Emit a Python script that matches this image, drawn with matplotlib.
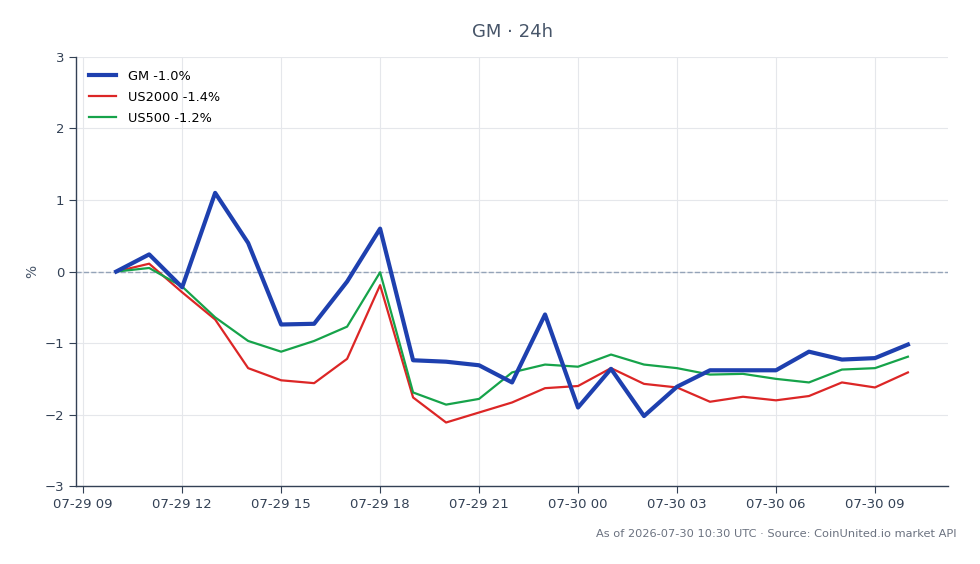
import pandas as pd
import numpy as np
import matplotlib.pyplot as plt
import matplotlib.dates as mdates

# hourly points, 07-29 10:00 -> 07-30 10:00 UTC
times = pd.date_range('2026-07-29 10:00', '2026-07-30 10:00', freq='h')

gm = [0.00, 0.24, -0.22, 1.10, 0.40, -0.74, -0.73, -0.14, 0.60, -1.24, -1.26, -1.31, -1.55,
      -0.60, -1.90, -1.36, -2.02, -1.61, -1.38, -1.38, -1.38, -1.12, -1.23, -1.21, -1.02]
us2000 = [0.00, 0.11, -0.29, -0.67, -1.35, -1.52, -1.56, -1.22, -0.19, -1.76, -2.11, -1.97, -1.83,
          -1.63, -1.60, -1.35, -1.57, -1.62, -1.82, -1.75, -1.80, -1.74, -1.55, -1.62, -1.41]
us500 = [0.00, 0.05, -0.21, -0.64, -0.97, -1.12, -0.97, -0.77, -0.01, -1.69, -1.86, -1.78, -1.41,
         -1.30, -1.33, -1.16, -1.30, -1.35, -1.44, -1.43, -1.50, -1.55, -1.37, -1.35, -1.19]

labels = ['GM -1.0%', 'US2000 -1.4%', 'US500 -1.2%']

axis_color = '#334155'
text_color = '#475569'

fig = plt.figure(figsize=(9.8, 5.64), dpi=100)
ax = fig.add_axes([0.0776, 0.138, 0.8898, 0.761])

ax.axhline(0, color='#94a3b8', linestyle='--', linewidth=1, zorder=1)
ax.plot(times, gm, color='#1e40af', linewidth=3, label=labels[0], zorder=4)
ax.plot(times, us2000, color='#dc2626', linewidth=1.6, label=labels[1], zorder=3)
ax.plot(times, us500, color='#16a34a', linewidth=1.6, label=labels[2], zorder=3)

ax.set_ylim(-3, 3)
ax.set_yticks(np.arange(-3, 4, 1))
ax.set_xlim(pd.Timestamp('2026-07-29 08:47'), pd.Timestamp('2026-07-30 11:13'))
ax.xaxis.set_major_locator(mdates.HourLocator(byhour=range(0, 24, 3)))
ax.xaxis.set_major_formatter(mdates.DateFormatter('%m-%d %H'))

ax.grid(True, color='#e5e7eb', linewidth=0.8)
ax.set_axisbelow(True)
for side in ['top', 'right']:
    ax.spines[side].set_visible(False)
for side in ['left', 'bottom']:
    ax.spines[side].set_color(axis_color)
    ax.spines[side].set_linewidth(1)
ax.tick_params(colors=axis_color, labelsize=9.5, length=5, labelcolor=axis_color)

ax.set_ylabel('%', color=text_color, fontsize=10)
ax.set_title('GM · 24h', color=text_color, fontsize=13, pad=14.5)

ax.legend(loc='upper left', frameon=False, fontsize=9.3, handlelength=2.1,
          handletextpad=0.9, borderaxespad=0.6, labelspacing=0.62)

fig.text(0.976, 0.054, 'As of 2026-07-30 10:30 UTC · Source: CoinUnited.io market API',
         ha='right', va='center', fontsize=8.2, color='#6b7280')

fig.savefig('out.png', dpi=100)
